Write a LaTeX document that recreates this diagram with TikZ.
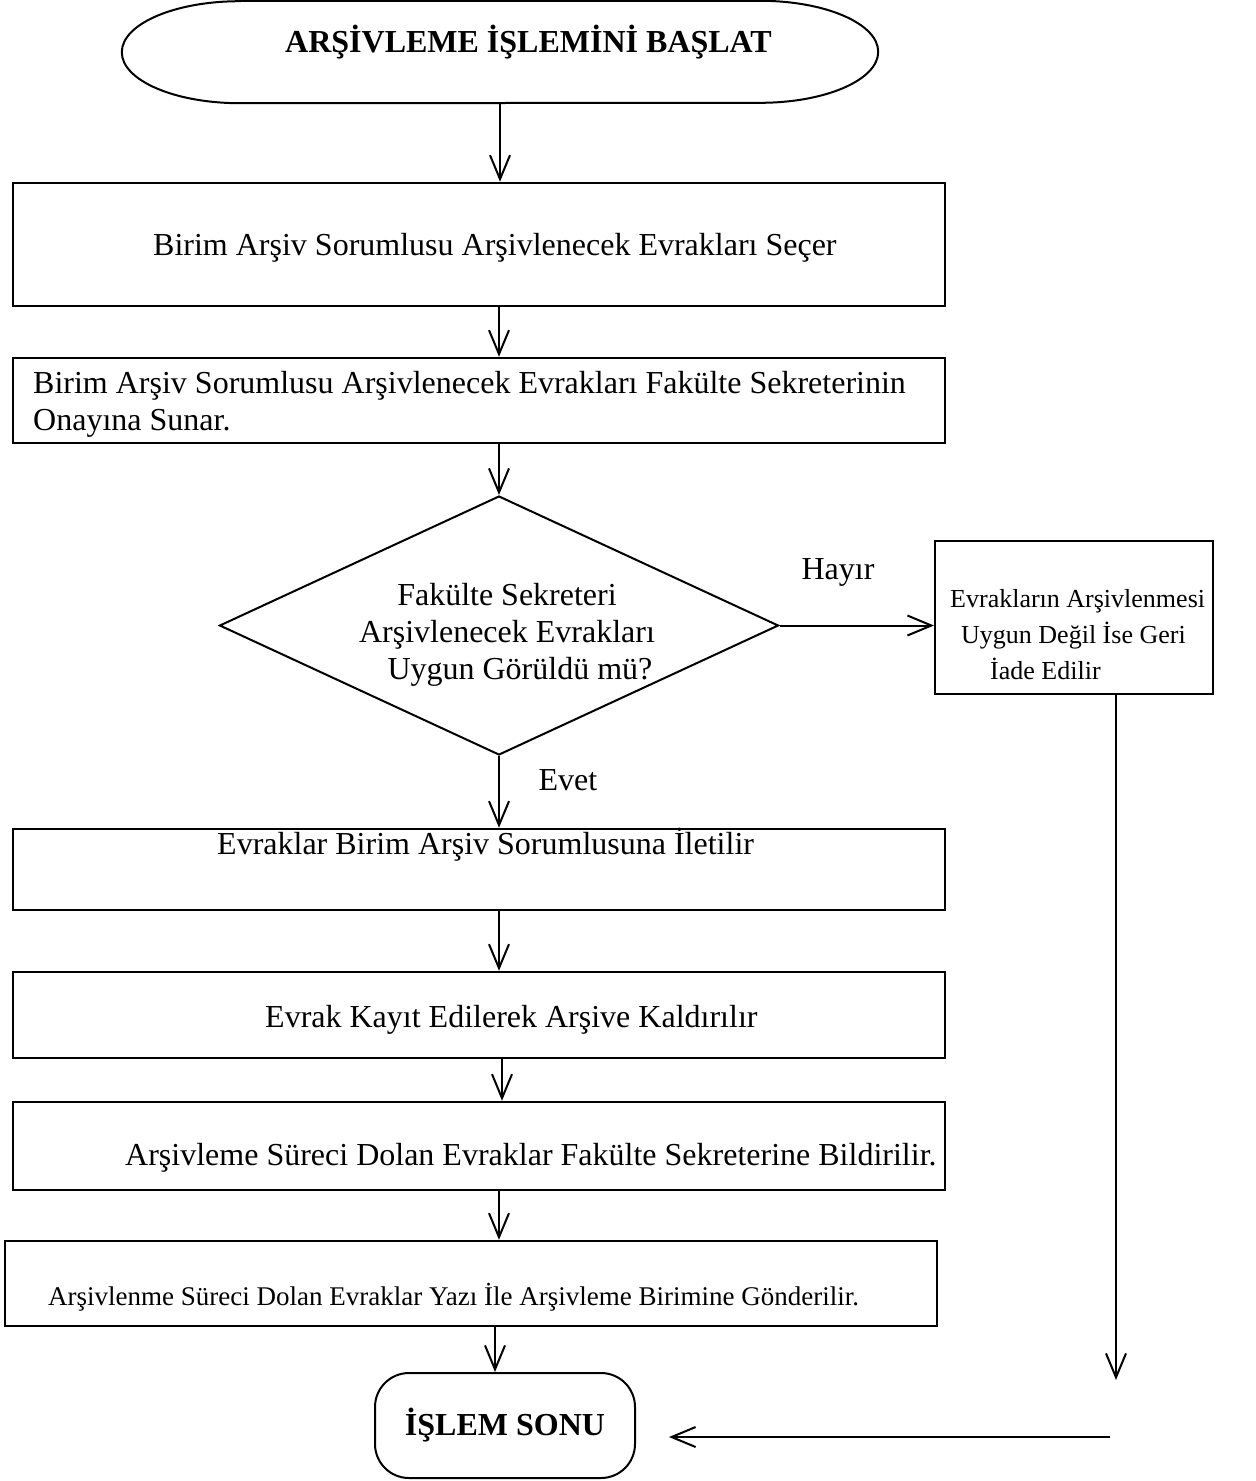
\documentclass[tikz,border=0pt]{standalone}
\usepackage{fontspec}
\setmainfont{Liberation Serif}
\usetikzlibrary{arrows.meta,shapes.geometric,calc}
\begin{document}
\begin{tikzpicture}[x=1pt,y=1pt,
  boxst/.style={draw,line width=2.5pt,rectangle,inner sep=0pt},
  thinbox/.style={draw,line width=2pt,rectangle,inner sep=0pt},
  txt/.style={inner sep=0pt,font=\fontsize{32}{37}\selectfont},
  smalltxt/.style={inner sep=0pt,font=\fontsize{26}{36}\selectfont},
  arr/.style={line width=2pt,-{Straight Barb[length=24pt,width=20pt]}},
  plain/.style={line width=2pt}]
\useasboundingbox (0,0) rectangle (1256,-1481);
% start terminator
\node[inner sep=0pt,minimum width=756pt,minimum height=102pt] (start) at (500,-52) {};
\draw[line width=2pt] ([xshift=118pt]start.north west) -- ([xshift=-118pt]start.north east)
  arc[start angle=90,end angle=-90,x radius=118pt,y radius=51pt]
  -- ([xshift=118pt]start.south west)
  arc[start angle=270,end angle=90,x radius=118pt,y radius=51pt] -- cycle;
\node[txt,font=\fontsize{32}{37}\selectfont\bfseries,anchor=west] (title) at (285,-42) {ARŞİVLEME İŞLEMİNİ BAŞLAT};
% boxes
\node[boxst,minimum width=932pt,minimum height=123pt] (b1) at (479,-244.5) {};
\node[txt,anchor=west] (t1) at (153,-248) {Birim Arşiv Sorumlusu Arşivlenecek Evrakları Seçer};
\node[boxst,minimum width=932pt,minimum height=85pt] (b2) at (479,-400.5) {};
\node[txt,anchor=west,align=left] (t2) at (33,-404) {Birim Arşiv Sorumlusu Arşivlenecek Evrakları Fakülte Sekreterinin\\Onayına Sunar.};
% decision
\node[draw,diamond,line width=2pt,inner sep=0pt,minimum width=559pt,minimum height=259pt] (dia) at (499,-625.5) {};
\node[txt,align=center] (dt) at (507,-635) {Fakülte Sekreteri\\Arşivlenecek Evrakları\\\hspace*{26pt}Uygun Görüldü mü?};
\node[txt] (hayir) at (838,-572) {Hayır};
\node[txt] (evet) at (568,-780) {Evet};
% right box
\node[thinbox,minimum width=278pt,minimum height=153pt] (rb) at (1074,-617.5) {};
\node[smalltxt,anchor=west,align=left] (rt) at (950,-635) {Evrakların Arşivlenmesi\\\hspace*{11pt}Uygun Değil İse Geri\\\hspace*{40pt}İade Edilir};
% lower boxes
\node[boxst,minimum width=932pt,minimum height=81pt] (b4) at (479,-869.5) {};
\node[txt,anchor=west] (t4) at (217,-845) {Evraklar Birim Arşiv Sorumlusuna İletilir};
\node[boxst,minimum width=932pt,minimum height=86pt] (b5) at (479,-1015) {};
\node[txt,anchor=west] (t5) at (265,-1020) {Evrak Kayıt Edilerek Arşive Kaldırılır};
\node[boxst,minimum width=932pt,minimum height=88pt] (b6) at (479,-1146) {};
\node[txt,anchor=west] (t6) at (125,-1158) {Arşivleme Süreci Dolan Evraklar Fakülte Sekreterine Bildirilir.};
\node[boxst,minimum width=932pt,minimum height=85pt] (b7) at (471,-1283.5) {};
\node[inner sep=0pt,font=\fontsize{27}{36}\selectfont,anchor=west] (t7) at (48,-1297) {Arşivlenme Süreci Dolan Evraklar Yazı İle Arşivleme Birimine Gönderilir.};
% end
\node[draw,line width=2pt,rectangle,rounded corners=34pt,minimum width=260pt,minimum height=105pt,inner sep=0pt,font=\fontsize{32}{37}\selectfont\bfseries] (end) at (505,-1425.5) {\raisebox{-4pt}{İŞLEM SONU}};
% connectors
\coordinate (c1) at (1116,-1380);
\coordinate (c2) at (1110,-1437);
\draw[arr] (start.south) -- (start.south |- b1.north);
\draw[arr] (b1.south -| dia.north) -- (b2.north -| dia.north);
\draw[arr] (b2.south -| dia.north) -- (dia.north);
\draw[arr] (dia.east) -- (rb.west |- dia.east);
\draw[arr] (dia.south) -- (b4.north -| dia.south);
\draw[arr] (b4.south -| dia.south) -- (b5.north -| dia.south);
\draw[arr] ([xshift=3pt]b5.south -| dia.south) -- ([xshift=3pt]b6.north -| dia.south);
\draw[arr] (b6.south -| dia.south) -- (b7.north -| dia.south);
\draw[arr] ([xshift=-10pt]b7.south -| end.north) -- ([xshift=-10pt]end.north);
\draw[arr] (rb.south -| c1) -- (c1);
\draw[arr] (c2) -- ([xshift=33pt]end.east |- c2);
\end{tikzpicture}
\end{document}
